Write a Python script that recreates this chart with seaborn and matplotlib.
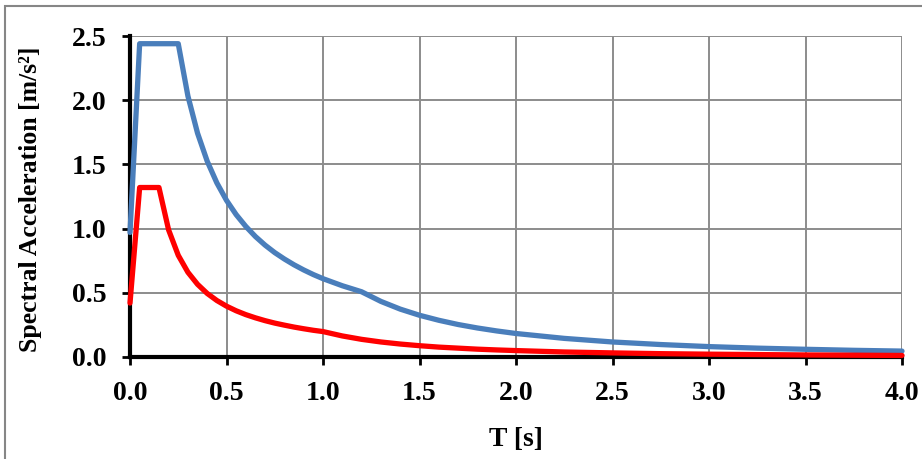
import matplotlib
matplotlib.use("Agg")
import matplotlib.pyplot as plt
import seaborn as sns
import pandas as pd
from matplotlib.patches import Rectangle

# Period values [s]
T = [0.00, 0.05, 0.10, 0.15, 0.20, 0.25, 0.30, 0.35, 0.40, 0.45, 0.50,
     0.55, 0.60, 0.65, 0.70, 0.75, 0.80, 0.85, 0.90, 0.95, 1.00,
     1.10, 1.20, 1.30, 1.40, 1.50, 1.60, 1.70, 1.80, 1.90, 2.00,
     2.25, 2.50, 2.75, 3.00, 3.25, 3.50, 3.75, 4.00]

# Blue spectrum values [m/s^2]
blue_sa = [0.97, 2.44, 2.44, 2.44, 2.44, 2.44, 2.033, 1.743, 1.525, 1.356, 1.220,
           1.109, 1.017, 0.938, 0.871, 0.813, 0.763, 0.718, 0.678, 0.642, 0.610,
           0.555, 0.508, 0.433, 0.373, 0.325, 0.286, 0.253, 0.226, 0.203, 0.183,
           0.145, 0.117, 0.097, 0.081, 0.069, 0.060, 0.052, 0.046]

# Red spectrum values [m/s^2]
red_sa = [0.42, 1.32, 1.32, 1.32, 0.99, 0.792, 0.660, 0.566, 0.495, 0.440, 0.396,
          0.360, 0.330, 0.305, 0.283, 0.264, 0.248, 0.233, 0.220, 0.208, 0.198,
          0.164, 0.1375, 0.117, 0.101, 0.088, 0.077, 0.069, 0.061, 0.055, 0.050,
          0.039, 0.032, 0.026, 0.022, 0.019, 0.016, 0.014, 0.012]

x_ticks = [0.0, 0.5, 1.0, 1.5, 2.0, 2.5, 3.0, 3.5, 4.0]
y_ticks = [0.0, 0.5, 1.0, 1.5, 2.0, 2.5]

df = pd.DataFrame({
    "T": T * 2,
    "Sa": blue_sa + red_sa,
    "series": ["blue"] * len(T) + ["red"] * len(T),
})

sns.set_theme(style="white")
plt.rcParams["font.family"] = ["Liberation Serif", "DejaVu Serif"]
plt.rcParams["font.weight"] = "bold"

fig = plt.figure(figsize=(9.22, 4.59), dpi=100)
ax = fig.add_axes([130 / 922, 1 - 357 / 459, 772 / 922, 321 / 459])

sns.lineplot(data=df, x="T", y="Sa", hue="series",
             palette={"blue": "#4A7EBB", "red": "#FF0000"},
             linewidth=3.8, legend=False, ax=ax, sort=False)
for ln in ax.lines:
    ln.set_clip_on(False)
    ln.set_zorder(5)
    ln.set_solid_joinstyle("round")

ax.set_xlim(0, 4.0)
ax.set_ylim(0, 2.5)
ax.set_xticks(x_ticks)
ax.set_yticks(y_ticks)
ax.set_xticklabels([f"{v:.1f}" for v in x_ticks], fontsize=20, fontweight="bold")
ax.set_yticklabels([f"{v:.1f}" for v in y_ticks], fontsize=20, fontweight="bold")

ax.grid(True, color="#8c8c8c", linewidth=1.4)
ax.set_axisbelow(True)
for s in ["top", "right"]:
    ax.spines[s].set_visible(False)
for s in ["left", "bottom"]:
    ax.spines[s].set_color("black")
    ax.spines[s].set_linewidth(3)
    ax.spines[s].set_zorder(4)

ax.tick_params(axis="both", which="major", direction="out", length=6, width=2,
               color="black", pad=11, bottom=True, left=True, labelcolor="black")

ax.set_xlabel("T [s]", fontsize=20, fontweight="bold", color="black")
ax.set_ylabel("Spectral Acceleration [m/s²]", fontsize=18.5,
              fontweight="bold", color="black")
ax.xaxis.set_label_coords(0.5, (357 - 440) / 321)
ax.xaxis.label.set_verticalalignment("center")
ax.yaxis.set_label_coords((31 - 130) / 772, 0.49)
ax.yaxis.label.set_verticalalignment("center")

fig.patches.append(Rectangle((5 / 922, -0.05), 1.2, 1 - 6 / 459 + 0.05,
                             transform=fig.transFigure, fill=False,
                             edgecolor="#868686", linewidth=1.5))

fig.savefig("out.png", dpi=100)
